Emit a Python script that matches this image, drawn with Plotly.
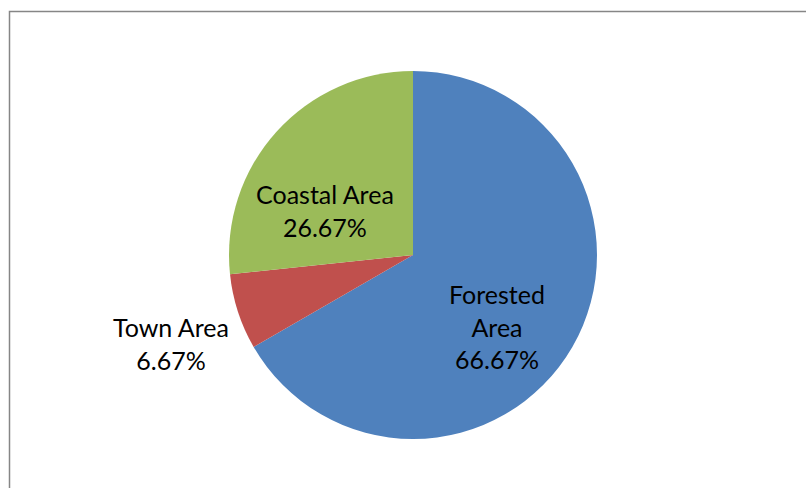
import plotly.graph_objects as go

labels = ["Forested Area", "Town Area", "Coastal Area"]
values = [10, 1, 4]
colors = ["#4F81BD", "#C0504D", "#9BBB59"]

total = sum(values)
pcts = [f"{v / total * 100:.2f}%" for v in values]

W, H = 806, 488
cx, cy, r = 413, 255, 184

fig = go.Figure(go.Pie(
    labels=labels, values=values, sort=False, direction="clockwise", rotation=0,
    marker=dict(colors=colors, line=dict(width=0)),
    textinfo="none", hoverinfo="label+percent", showlegend=False,
    domain=dict(x=[(cx - r) / W, (cx + r) / W], y=[(H - cy - r) / H, (H - cy + r) / H]),
))

label_text = ["Forested<br>Area<br>" + pcts[0],
              labels[1] + "<br>" + pcts[1],
              labels[2] + "<br>" + pcts[2]]
label_pos = [(497, 326), (171, 343), (325, 210)]
for t, (x, y) in zip(label_text, label_pos):
    fig.add_annotation(x=x / W, y=1 - y / H, xref="paper", yref="paper", text=t,
                       showarrow=False, xanchor="center", yanchor="middle",
                       font=dict(family="Lato, Open Sans, sans-serif", size=25, color="#000000"))

fig.add_shape(type="rect", xref="paper", yref="paper",
              x0=9.5 / W, x1=1.05, y0=-0.05, y1=1 - 11.5 / H,
              line=dict(color="#868686", width=1.5), fillcolor="rgba(0,0,0,0)")

fig.update_layout(width=W, height=H, margin=dict(l=0, r=0, t=0, b=0),
                  paper_bgcolor="white", plot_bgcolor="white")
fig.write_html("out.html")
